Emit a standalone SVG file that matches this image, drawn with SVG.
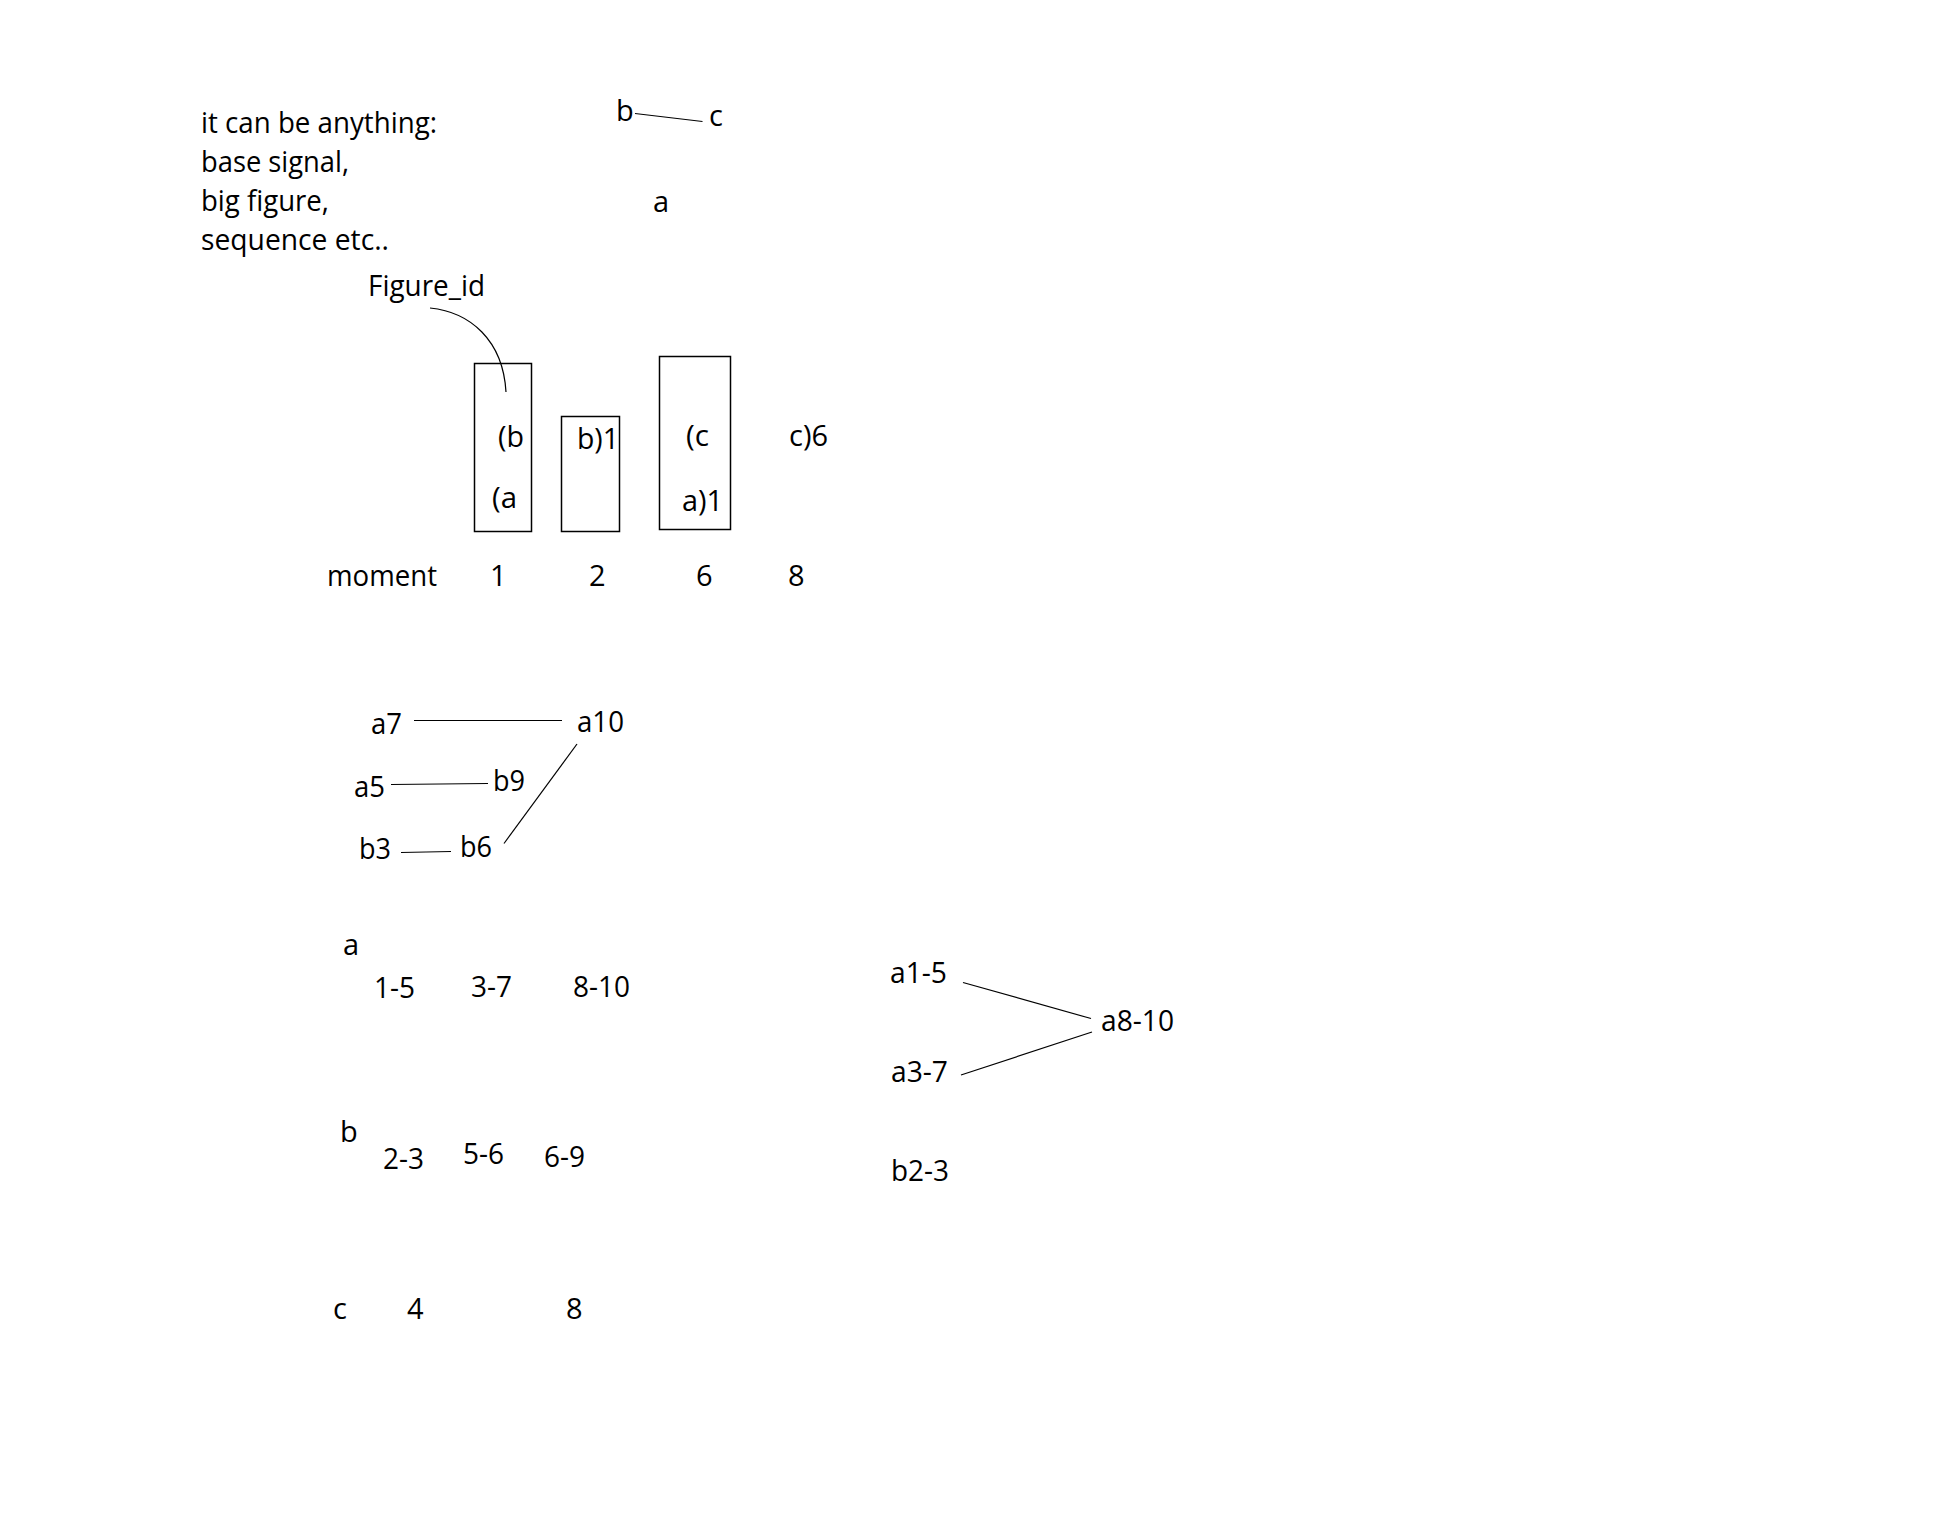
<svg xmlns="http://www.w3.org/2000/svg" width="1958" height="1523" viewBox="0 0 1958 1523">
<style>
text{font-family:"Open Sans","Noto Sans","Liberation Sans",sans-serif;font-size:29px;fill:#000}
.box{fill:none;stroke:#000;stroke-width:1.5}
.ln{fill:none;stroke:#000;stroke-width:1.2}
</style>
<rect width="1958" height="1523" fill="#fff"/>
<g id="note">
<text x="201" y="133" textLength="236" lengthAdjust="spacingAndGlyphs">it can be anything:</text>
<text x="201" y="172" textLength="148" lengthAdjust="spacingAndGlyphs">base signal,</text>
<text x="201" y="211" textLength="128" lengthAdjust="spacingAndGlyphs">big figure,</text>
<text x="201" y="250" textLength="188" lengthAdjust="spacingAndGlyphs">sequence etc..</text>
</g>
<g id="top-b"><text x="616" y="121">b</text></g>
<g id="top-c"><text x="709" y="126">c</text></g>
<g id="top-a"><text x="653" y="212">a</text></g>
<g id="figure-id"><text x="368" y="296" textLength="117" lengthAdjust="spacingAndGlyphs">Figure_id</text></g>
<g id="box1">
<rect class="box" x="474.5" y="363.5" width="57" height="168"/>
<text x="498" y="447" textLength="26" lengthAdjust="spacingAndGlyphs">(b</text>
<text x="492" y="508" textLength="25" lengthAdjust="spacingAndGlyphs">(a</text>
</g>
<g id="box2">
<rect class="box" x="561.5" y="416.5" width="58" height="115"/>
<text x="577" y="449" textLength="42" lengthAdjust="spacingAndGlyphs">b)1</text>
</g>
<g id="box3">
<rect class="box" x="659.5" y="356.5" width="71" height="173"/>
<text x="686" y="446" textLength="23" lengthAdjust="spacingAndGlyphs">(c</text>
<text x="682" y="511" textLength="41" lengthAdjust="spacingAndGlyphs">a)1</text>
</g>
<g id="c6"><text x="789" y="446" textLength="39" lengthAdjust="spacingAndGlyphs">c)6</text></g>
<g id="moments">
<text x="327" y="586" textLength="110" lengthAdjust="spacingAndGlyphs">moment</text>
<text x="490" y="586">1</text>
<text x="589" y="586">2</text>
<text x="696" y="586">6</text>
<text x="788" y="586">8</text>
</g>
<g id="n-a7"><text x="371" y="734" textLength="31" lengthAdjust="spacingAndGlyphs">a7</text></g>
<g id="n-a10"><text x="577" y="732" textLength="47" lengthAdjust="spacingAndGlyphs">a10</text></g>
<g id="n-a5"><text x="354" y="797" textLength="31" lengthAdjust="spacingAndGlyphs">a5</text></g>
<g id="n-b9"><text x="493" y="791" textLength="32" lengthAdjust="spacingAndGlyphs">b9</text></g>
<g id="n-b3"><text x="359" y="859" textLength="32" lengthAdjust="spacingAndGlyphs">b3</text></g>
<g id="n-b6"><text x="460" y="857" textLength="32" lengthAdjust="spacingAndGlyphs">b6</text></g>
<g id="ranges-a">
<text x="343" y="955">a</text>
<text x="374" y="998" textLength="41" lengthAdjust="spacingAndGlyphs">1-5</text>
<text x="471" y="997" textLength="41" lengthAdjust="spacingAndGlyphs">3-7</text>
<text x="573" y="997" textLength="57" lengthAdjust="spacingAndGlyphs">8-10</text>
</g>
<g id="ranges-b">
<text x="340" y="1142">b</text>
<text x="383" y="1169" textLength="41" lengthAdjust="spacingAndGlyphs">2-3</text>
<text x="463" y="1164" textLength="41" lengthAdjust="spacingAndGlyphs">5-6</text>
<text x="544" y="1167" textLength="41" lengthAdjust="spacingAndGlyphs">6-9</text>
</g>
<g id="ranges-c">
<text x="333" y="1319">c</text>
<text x="407" y="1319">4</text>
<text x="566" y="1319">8</text>
</g>
<g id="n-a1-5"><text x="890" y="983" textLength="57" lengthAdjust="spacingAndGlyphs">a1-5</text></g>
<g id="n-a8-10"><text x="1101" y="1031" textLength="73" lengthAdjust="spacingAndGlyphs">a8-10</text></g>
<g id="n-a3-7"><text x="891" y="1082" textLength="57" lengthAdjust="spacingAndGlyphs">a3-7</text></g>
<g id="n-b2-3"><text x="891" y="1181" textLength="58" lengthAdjust="spacingAndGlyphs">b2-3</text></g>
<g id="connectors">
<line class="ln" x1="635" y1="113.5" x2="702.5" y2="121.5"/>
<path class="ln" d="M430,308 C470,312 503,340 506,392"/>
<line class="ln" x1="414" y1="720.5" x2="562" y2="720.5"/>
<polyline class="ln" points="391,784.5 440,784 488,783.5"/>
<polyline class="ln" points="401,852.5 426,852 451,851.5"/>
<line class="ln" x1="504" y1="843.5" x2="577" y2="744"/>
<line class="ln" x1="963" y1="982.5" x2="1091" y2="1018.5"/>
<line class="ln" x1="961" y1="1075" x2="1092" y2="1032"/>
</g>
</svg>
